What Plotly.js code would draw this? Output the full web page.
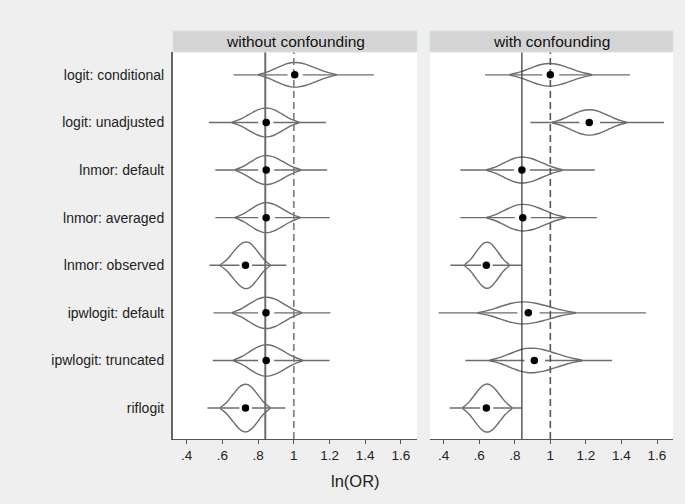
<!DOCTYPE html>
<html>
<head>
<meta charset="utf-8">
<script src="https://cdn.plot.ly/plotly-3.0.1.min.js"></script>
<style>
  html, body { margin: 0; padding: 0; background: #efefef; }
  #chart { width: 685px; height: 504px; }
</style>
</head>
<body>
<div id="chart"></div>
<script>
// ---------- data ----------
const methods = ["logit: conditional", "logit: unadjusted", "lnmor: default", "lnmor: averaged",
                 "lnmor: observed", "ipwlogit: default", "ipwlogit: truncated", "riflogit"];
const panels = ["without confounding", "with confounding"];

// without confounding
const woMin  = [0.662, 0.525, 0.560, 0.560, 0.527, 0.550, 0.546, 0.516];
const woQ1   = [0.965, 0.800, 0.800, 0.800, 0.695, 0.800, 0.800, 0.695];
const woMed  = [1.005, 0.845, 0.845, 0.845, 0.729, 0.844, 0.845, 0.729];
const woQ3   = [1.050, 0.885, 0.890, 0.895, 0.765, 0.890, 0.890, 0.765];
const woMax  = [1.448, 1.180, 1.187, 1.200, 0.958, 1.205, 1.200, 0.952];
const woLo   = [0.800, 0.653, 0.670, 0.670, 0.587, 0.653, 0.660, 0.587];   // visible start of density
const woMode = [1.005, 0.845, 0.845, 0.845, 0.733, 0.845, 0.845, 0.729];
const woHi   = [1.240, 1.030, 1.040, 1.036, 0.868, 1.046, 1.050, 0.868];   // visible end of density
const woPeak = [0.258, 0.303, 0.305, 0.315, 0.490, 0.330, 0.330, 0.500];   // half-height at mode

// with confounding
const wcMin  = [0.633, 0.888, 0.494, 0.494, 0.438, 0.371, 0.522, 0.433];
const wcQ1   = [0.955, 1.163, 0.795, 0.800, 0.610, 0.815, 0.855, 0.605];
const wcMed  = [1.000, 1.219, 0.840, 0.845, 0.640, 0.876, 0.910, 0.640];
const wcQ3   = [1.050, 1.280, 0.885, 0.890, 0.675, 0.940, 0.970, 0.680];
const wcMax  = [1.448, 1.640, 1.250, 1.262, 0.839, 1.538, 1.347, 0.839];
const wcLo   = [0.770, 1.010, 0.640, 0.640, 0.517, 0.590, 0.657, 0.506];
const wcMode = [0.994, 1.219, 0.840, 0.845, 0.644, 0.845, 0.890, 0.644];
const wcHi   = [1.236, 1.430, 1.070, 1.088, 0.770, 1.144, 1.180, 0.786];
const wcPeak = [0.237, 0.267, 0.273, 0.279, 0.483, 0.231, 0.258, 0.504];

const trueOR = 0.84;   // solid reference line
const nullOR = 1;      // dashed reference line

const tickVals = [0.4, 0.6, 0.8, 1, 1.2, 1.4, 1.6];
const tickText = [".4", ".6", ".8", "1", "1.2", "1.4", "1.6"];

// outline shape template (relative position -> relative half-height)
const shapeT = [-1, -0.85, -0.7, -0.55, -0.4, -0.25, -0.1, 0, 0.1, 0.25, 0.4, 0.55, 0.7, 0.85, 1];
const shapeH = [0.02, 0.14, 0.29, 0.49, 0.69, 0.87, 0.98, 1, 0.98, 0.87, 0.69, 0.49, 0.29, 0.14, 0.02];

// ---------- build ----------
const FONT = "Liberation Sans, Arial, Helvetica, sans-serif";
const yRange = [8.65, 0.52];
const catPos = methods.map((m, i) => i + 1);

function panelTraces(xa, ya, mn, q1, med, q3, mx, lo, mode, hi, peak, refStyle) {
  const ox = [], oy = [], wx = [], wy = [], gx = [], gy = [];
  methods.forEach((m, i) => {
    const c = catPos[i];
    [-1, 1].forEach(side => {
      shapeT.forEach((t, k) => {
        ox.push(t < 0 ? mode[i] + t * (mode[i] - lo[i]) : mode[i] + t * (hi[i] - mode[i]));
        oy.push(c + side * peak[i] * shapeH[k]);
      });
      ox.push(null); oy.push(null);
    });
    wx.push(mn[i], mx[i], null); wy.push(c, c, null);
    gx.push(q1[i], q3[i], null); gy.push(c, c, null);
  });
  const common = { xaxis: xa, yaxis: ya, showlegend: false, hoverinfo: "skip", type: "scatter" };
  return [
    Object.assign({}, common, { x: wx, y: wy, mode: "lines", line: { color: "#6c6c6c", width: 1.4 } }),
    Object.assign({}, common, { x: ox, y: oy, mode: "lines", line: { color: "#6c6c6c", width: 1.4, shape: "spline", smoothing: 0.9 } }),
    Object.assign({}, common, { x: gx, y: gy, mode: "lines", line: { color: "#ffffff", width: 2.5 } }),
    Object.assign({}, common, { x: [trueOR, trueOR], y: yRange, mode: "lines", line: { color: refStyle.solid, width: refStyle.solidW } }),
    Object.assign({}, common, { x: [nullOR, nullOR], y: yRange, mode: "lines", line: { color: refStyle.dash, width: 1.6, dash: "7px,4px" } }),
    Object.assign({}, common, { x: med, y: catPos, mode: "markers", marker: { color: "#000000", size: 7.5 } })
  ];
}

const data = [].concat(
  panelTraces("x", "y", woMin, woQ1, woMed, woQ3, woMax, woLo, woMode, woHi, woPeak,
              { solid: "#6e6e6e", solidW: 2, dash: "#7a7a7a" }),
  panelTraces("x2", "y2", wcMin, wcQ1, wcMed, wcQ3, wcMax, wcLo, wcMode, wcHi, wcPeak,
              { solid: "#333333", solidW: 1.2, dash: "#555555" })
);

const xCommon = {
  range: [0.323, 1.69], tickvals: tickVals, ticktext: tickText,
  ticks: "outside", ticklen: 4, tickcolor: "#555", tickwidth: 1,
  showline: true, linecolor: "#555", linewidth: 1.2, mirror: false,
  showgrid: false, zeroline: false,
  tickfont: { family: FONT, size: 13.5, color: "#222" }
};
const yCommon = {
  range: yRange, tickvals: catPos, ticktext: methods,
  showgrid: false, zeroline: false, ticks: ""
};

const dom1 = [0, 0.488], dom2 = [0.514, 1];
const stripTop = 1.0543;

const layout = {
  width: 685, height: 504,
  margin: { l: 173, r: 12, t: 52, b: 65 },
  paper_bgcolor: "#efefef", plot_bgcolor: "#ffffff",
  font: { family: FONT, color: "#222" },
  xaxis: Object.assign({}, xCommon, { domain: dom1, anchor: "y" }),
  xaxis2: Object.assign({}, xCommon, { domain: dom2, anchor: "y2" }),
  yaxis: Object.assign({}, yCommon, { anchor: "x", showline: true, linecolor: "#666", linewidth: 2,
                                      tickfont: { family: FONT, size: 14, color: "#222" }, ticklabelstandoff: 4 }),
  yaxis2: Object.assign({}, yCommon, { anchor: "x2", showline: false, showticklabels: false }),
  shapes: [
    { type: "rect", xref: "paper", yref: "paper", x0: dom1[0], x1: dom1[1], y0: 1.0, y1: stripTop,
      fillcolor: "#d4d4d4", line: { color: "#d6e4e8", width: 1 } },
    { type: "rect", xref: "paper", yref: "paper", x0: dom2[0], x1: dom2[1], y0: 1.0, y1: stripTop,
      fillcolor: "#d4d4d4", line: { color: "#d6e4e8", width: 1 } }
  ],
  annotations: [
    { text: panels[0], xref: "paper", yref: "paper", x: (dom1[0] + dom1[1]) / 2, y: (1 + stripTop) / 2,
      showarrow: false, xanchor: "center", yanchor: "middle", font: { family: FONT, size: 15.5, color: "#111" } },
    { text: panels[1], xref: "paper", yref: "paper", x: (dom2[0] + dom2[1]) / 2, y: (1 + stripTop) / 2,
      showarrow: false, xanchor: "center", yanchor: "middle", font: { family: FONT, size: 15.5, color: "#111" } },
    { text: "ln(OR)", xref: "paper", yref: "paper", x: (355 - 173) / 500, y: -(481 - 439) / 387,
      showarrow: false, xanchor: "center", yanchor: "middle", font: { family: FONT, size: 16.5, color: "#222" } }
  ]
};

Plotly.newPlot("chart", data, layout, { displayModeBar: false, staticPlot: true });
</script>
</body>
</html>
